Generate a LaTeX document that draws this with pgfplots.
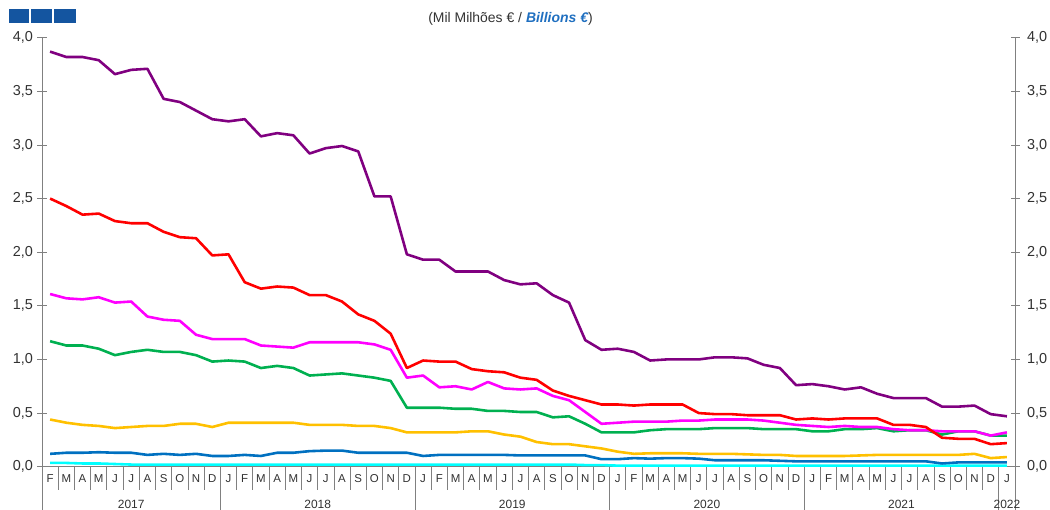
\documentclass[border=0pt]{standalone}
\usepackage{fontspec}
\setmainfont{Liberation Sans}
\usepackage{pgfplots}
\pgfplotsset{compat=1.18}
\usepackage{pgfplotstable}

\definecolor{cPurple}{RGB}{128,0,128}
\definecolor{cRed}{RGB}{255,0,0}
\definecolor{cMag}{RGB}{255,0,255}
\definecolor{cGreen}{RGB}{0,176,80}
\definecolor{cYellow}{RGB}{255,192,0}
\definecolor{cBlue}{RGB}{0,112,192}
\definecolor{cCyan}{RGB}{0,255,255}
\definecolor{axisgray}{RGB}{128,128,128}
\definecolor{labelgray}{RGB}{50,50,50}
\definecolor{titleblue}{RGB}{31,111,192}
\definecolor{logoblue}{RGB}{20,85,160}

\pgfplotstableread{
x p r m g y b c
0.5 3.87 2.50 1.61 1.17 0.44 0.12 0.035
1.5 3.82 2.43 1.57 1.13 0.41 0.13 0.035
2.5 3.82 2.35 1.56 1.13 0.39 0.13 0.03
3.5 3.79 2.36 1.58 1.10 0.38 0.135 0.03
4.5 3.66 2.29 1.53 1.04 0.36 0.13 0.025
5.5 3.70 2.27 1.54 1.07 0.37 0.13 0.02
6.5 3.71 2.27 1.40 1.09 0.38 0.11 0.02
7.5 3.43 2.19 1.37 1.07 0.38 0.12 0.02
8.5 3.40 2.14 1.36 1.07 0.40 0.11 0.02
9.5 3.32 2.13 1.23 1.04 0.40 0.12 0.02
10.5 3.24 1.97 1.19 0.98 0.37 0.10 0.02
11.5 3.22 1.98 1.19 0.99 0.41 0.10 0.02
12.5 3.24 1.72 1.19 0.98 0.41 0.11 0.02
13.5 3.08 1.66 1.13 0.92 0.41 0.10 0.02
14.5 3.11 1.68 1.12 0.94 0.41 0.13 0.02
15.5 3.09 1.67 1.11 0.92 0.41 0.13 0.02
16.5 2.92 1.60 1.16 0.85 0.39 0.145 0.02
17.5 2.97 1.60 1.16 0.86 0.39 0.15 0.02
18.5 2.99 1.54 1.16 0.87 0.39 0.15 0.02
19.5 2.94 1.42 1.16 0.85 0.38 0.13 0.02
20.5 2.52 1.36 1.14 0.83 0.38 0.13 0.02
21.5 2.52 1.24 1.09 0.80 0.36 0.13 0.02
22.5 1.98 0.92 0.83 0.55 0.32 0.13 0.02
23.5 1.93 0.99 0.85 0.55 0.32 0.10 0.02
24.5 1.93 0.98 0.74 0.55 0.32 0.11 0.02
25.5 1.82 0.98 0.75 0.54 0.32 0.11 0.02
26.5 1.82 0.91 0.72 0.54 0.33 0.11 0.02
27.5 1.82 0.89 0.79 0.52 0.33 0.11 0.02
28.5 1.74 0.88 0.73 0.52 0.30 0.11 0.02
29.5 1.70 0.83 0.72 0.51 0.28 0.105 0.02
30.5 1.71 0.81 0.73 0.51 0.23 0.105 0.02
31.5 1.60 0.71 0.66 0.46 0.21 0.105 0.02
32.5 1.53 0.66 0.62 0.47 0.21 0.105 0.02
33.5 1.18 0.62 0.51 0.40 0.19 0.105 0.015
34.5 1.09 0.58 0.40 0.32 0.17 0.07 0.015
35.5 1.10 0.58 0.41 0.32 0.14 0.07 0.01
36.5 1.07 0.57 0.42 0.32 0.12 0.08 0.01
37.5 0.99 0.58 0.42 0.34 0.125 0.075 0.01
38.5 1.00 0.58 0.42 0.35 0.125 0.08 0.01
39.5 1.00 0.58 0.43 0.35 0.125 0.08 0.01
40.5 1.00 0.50 0.43 0.35 0.12 0.075 0.01
41.5 1.02 0.49 0.44 0.36 0.12 0.06 0.01
42.5 1.02 0.49 0.44 0.36 0.12 0.06 0.01
43.5 1.01 0.48 0.44 0.36 0.115 0.06 0.01
44.5 0.95 0.48 0.43 0.35 0.11 0.06 0.01
45.5 0.92 0.48 0.41 0.35 0.11 0.055 0.01
46.5 0.76 0.44 0.39 0.35 0.10 0.05 0.01
47.5 0.77 0.45 0.38 0.33 0.10 0.05 0.01
48.5 0.75 0.44 0.37 0.33 0.10 0.05 0.01
49.5 0.72 0.45 0.38 0.35 0.10 0.05 0.01
50.5 0.74 0.45 0.37 0.35 0.105 0.05 0.01
51.5 0.68 0.45 0.37 0.36 0.11 0.05 0.01
52.5 0.64 0.39 0.35 0.33 0.11 0.05 0.01
53.5 0.64 0.39 0.34 0.34 0.11 0.05 0.01
54.5 0.64 0.37 0.34 0.34 0.11 0.05 0.01
55.5 0.56 0.27 0.33 0.30 0.11 0.03 0.01
56.5 0.56 0.26 0.33 0.33 0.11 0.04 0.01
57.5 0.57 0.26 0.33 0.33 0.12 0.04 0.01
58.5 0.49 0.21 0.29 0.29 0.08 0.04 0.01
59.5 0.47 0.22 0.32 0.29 0.09 0.04 0.01
}\data

\pgfplotsset{
  common/.style={
    scale only axis, width=973bp, height=429bp,
    xmin=0, xmax=60, ymin=0, ymax=4, clip=false,
    axis line style={draw=axisgray, line width=0.8pt, -},
    ytick={0,0.5,...,4}, tick align=center, major tick length=9bp,
    ytick style={draw=axisgray, line width=0.8pt},
    /pgf/number format/assume math mode=true,
    yticklabel style={/pgf/number format/.cd, use comma, fixed, fixed zerofill, precision=1, /tikz/.cd,
      font=\fontsize{14.5}{14.5}\selectfont, text=labelgray},
  },
}
\tikzset{yearlab/.style={font=\fontsize{12}{12}\selectfont, text=labelgray, yshift=-37.3bp}}

\begin{document}
\begin{tikzpicture}[x=1bp,y=1bp]
\useasboundingbox (-42,-43.3) rectangle (1008,466.7);
\fill[logoblue] (-32.7,444.0) rectangle (-12.7,457.4);
\fill[logoblue] (-11,444.0) rectangle (9.7,457.4);
\fill[logoblue] (12.3,444.0) rectangle (34,457.4);
\node[font=\fontsize{14}{14}\selectfont, text=labelgray] at (468.5,448.2)
  {(Mil Milhões € / {\color{titleblue}\bfseries\itshape Billions €})};

\begin{axis}[common,
  axis x line*=bottom, axis y line*=left,
  yticklabel style={xshift=-1bp},
  xtick={0.5,1.5,...,59.5},
  xticklabels={F,M,A,M,J,J,A,S,O,N,D,
    J,F,M,A,M,J,J,A,S,O,N,D,
    J,F,M,A,M,J,J,A,S,O,N,D,
    J,F,M,A,M,J,J,A,S,O,N,D,
    J,F,M,A,M,J,J,A,S,O,N,D,J},
  xtick style={draw=none},
  xticklabel style={font=\fontsize{11.5}{11.5}\selectfont, text=labelgray, anchor=center, yshift=-7.5bp},
  ]
  \pgfplotsinvokeforeach{0,...,60}{\draw[axisgray, line width=0.8pt] (axis cs:#1,0) -- ++(0pt,-23.3bp);}
  \pgfplotsinvokeforeach{0,11,23,35,47,59,60}{\draw[axisgray, line width=0.8pt] (axis cs:#1,0) -- ++(0pt,-43.3bp);}
  \node[yearlab] at (axis cs:5.5,0) {2017};
  \node[yearlab] at (axis cs:17,0) {2018};
  \node[yearlab] at (axis cs:29,0) {2019};
  \node[yearlab] at (axis cs:41,0) {2020};
  \node[yearlab] at (axis cs:53,0) {2021};
  \node[yearlab] at (axis cs:59.5,0) {2022};
  \addplot[cCyan, line width=2.6pt, line join=round] table[x=x,y=c] {\data};
  \addplot[cBlue, line width=2.6pt, line join=round] table[x=x,y=b] {\data};
  \addplot[cYellow, line width=2.6pt, line join=round] table[x=x,y=y] {\data};
  \addplot[cGreen, line width=2.6pt, line join=round] table[x=x,y=g] {\data};
  \addplot[cMag, line width=2.6pt, line join=round] table[x=x,y=m] {\data};
  \addplot[cRed, line width=2.6pt, line join=round] table[x=x,y=r] {\data};
  \addplot[cPurple, line width=2.6pt, line join=round] table[x=x,y=p] {\data};
\end{axis}

\begin{axis}[common,
  axis x line=none, axis y line*=right,
  yticklabel style={xshift=4bp},
  xtick=\empty,
  ]
\end{axis}
\end{tikzpicture}
\end{document}
